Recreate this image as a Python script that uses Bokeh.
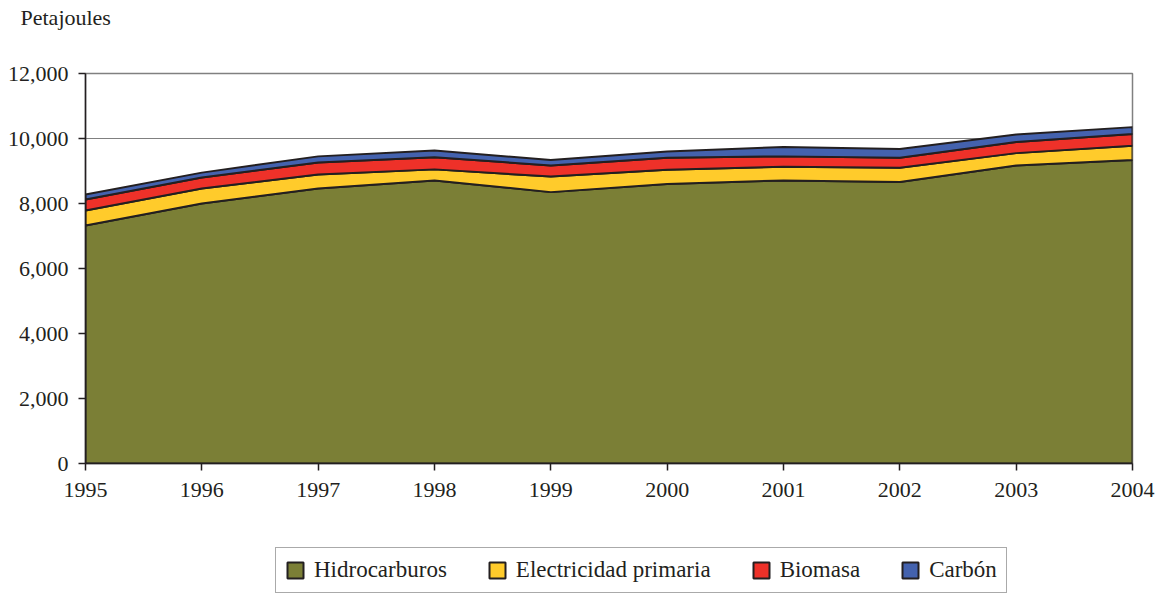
import numpy as np
from bokeh.plotting import figure
from bokeh.layouts import column
from bokeh.models import Range1d, FixedTicker, NumeralTickFormatter, Legend, LegendItem
from bokeh.embed import file_html
from bokeh.resources import INLINE

years = [1995, 1996, 1997, 1998, 1999, 2000, 2001, 2002, 2003, 2004]
hidrocarburos = [7320, 8000, 8460, 8710, 8350, 8600, 8710, 8660, 9170, 9340]
electricidad = [465, 460, 430, 340, 480, 440, 420, 440, 380, 440]
biomasa = [340, 340, 370, 375, 340, 370, 320, 310, 340, 360]
carbon = [150, 150, 190, 205, 170, 190, 290, 270, 230, 210]

series_names = ["Hidrocarburos", "Electricidad primaria", "Biomasa", "Carbón"]
series_values = [hidrocarburos, electricidad, biomasa, carbon]
colors = ["#7B7F36", "#FFCB2B", "#EE3129", "#4462AE"]
y_ticks = [0, 2000, 4000, 6000, 8000, 10000, 12000]
unit_label = "Petajoules"

FONT = "Liberation Serif"
TXT = "#231F20"
EDGE = "#231F20"


def bare(fig):
    fig.axis.visible = False
    fig.grid.visible = False
    fig.outline_line_color = None


# heading strip
head = figure(width=1164, height=36, output_backend="svg", toolbar_location=None,
              x_range=Range1d(0, 1), y_range=Range1d(0, 1),
              min_border_left=0, min_border_right=0, min_border_top=0, min_border_bottom=0)
bare(head)
head.title.text = unit_label
head.title.align = "left"
head.title.offset = -65
head.title.standoff = 10
head.title.vertical_align = "top"
head.title.text_font = FONT
head.title.text_font_size = "22px"
head.title.text_font_style = "normal"
head.title.text_color = TXT

# main chart
main = figure(width=1164, height=494, output_backend="svg", toolbar_location=None,
              x_range=Range1d(1995, 2004), y_range=Range1d(0, 12000),
              min_border_left=85, min_border_right=32, min_border_top=37, min_border_bottom=67)

x = np.array(years, dtype=float)
bottom = np.zeros(len(years))
for name, vals, col in zip(series_names, series_values, colors):
    top = bottom + np.array(vals, dtype=float)
    xs = np.concatenate([x, x[::-1]])
    ys = np.concatenate([top, bottom[::-1]])
    main.patch(xs, ys, fill_color=col, line_color=EDGE, line_width=2, line_join="round")
    bottom = top

main.xgrid.grid_line_color = None
main.ygrid.grid_line_color = "#808080"
main.ygrid.grid_line_width = 1
main.ygrid.ticker = FixedTicker(ticks=y_ticks)
main.outline_line_color = "#808080"
main.outline_line_width = 1.5

main.yaxis.ticker = FixedTicker(ticks=y_ticks)
main.yaxis.formatter = NumeralTickFormatter(format="0,0")
main.xaxis.ticker = FixedTicker(ticks=years)
for ax in (main.xaxis[0], main.yaxis[0]):
    ax.axis_line_color = EDGE
    ax.axis_line_width = 1.5
    ax.major_tick_line_color = EDGE
    ax.major_tick_line_width = 1.5
    ax.major_tick_out = 7
    ax.major_tick_in = 0
    ax.minor_tick_line_color = None
    ax.major_label_text_font = FONT
    ax.major_label_text_font_size = "22px"
    ax.major_label_text_color = TXT
main.yaxis.major_label_standoff = 10
main.xaxis.major_label_standoff = 12

# legend strip below the chart (swatch renderers sit outside the visible range)
leg = figure(width=1164, height=66, output_backend="svg", toolbar_location=None,
             x_range=Range1d(0, 1), y_range=Range1d(0, 1),
             min_border_left=0, min_border_right=0, min_border_top=0, min_border_bottom=0)
bare(leg)
items = []
for name, col in zip(series_names, colors):
    r = leg.patch([-10, -9, -9], [-10, -10, -9], fill_color=col, line_color=EDGE, line_width=2)
    items.append(LegendItem(label=name, renderers=[r]))
legend = Legend(items=items, orientation="horizontal", location=(190, 3))
legend.label_text_font = FONT
legend.label_text_font_size = "23px"
legend.label_text_color = TXT
legend.glyph_width = 20
legend.glyph_height = 20
legend.label_standoff = 9
legend.spacing = 40
legend.padding = 9
legend.margin = 0
legend.border_line_color = "#555555"
legend.border_line_width = 1.5
leg.add_layout(legend, "center")

p = column(head, main, leg, spacing=0)
open("out.html", "w").write(file_html(p, INLINE))
